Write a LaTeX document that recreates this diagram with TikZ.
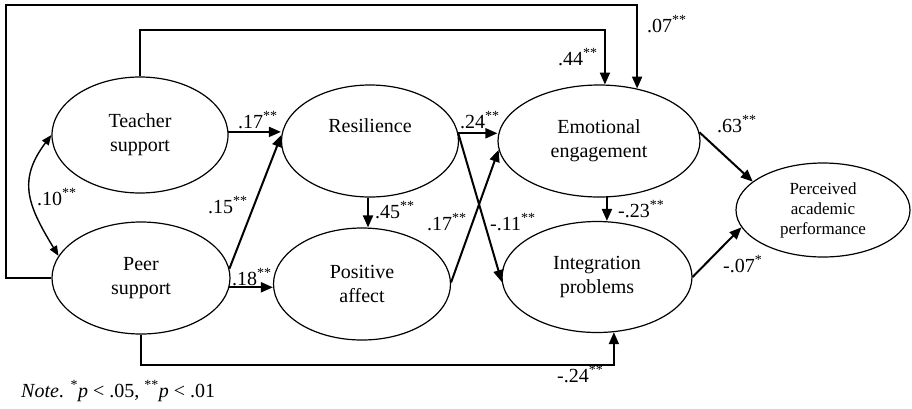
\documentclass[tikz,border=0pt]{standalone}
\usepackage{fontspec}
\setmainfont{Liberation Serif}
\usetikzlibrary{shapes.geometric,arrows.meta,calc}
\begin{document}
\begin{tikzpicture}[x=1pt,y=-1pt,
  latent/.style={ellipse,draw,line width=1.2pt,inner sep=0pt,align=center,font=\fontsize{20}{24}\selectfont},
  arr/.style={line width=2pt,-{Triangle[length=12pt,width=10pt]}},
  dblarr/.style={line width=1.4pt,{Triangle[length=10pt,width=8pt]}-{Triangle[length=10pt,width=8pt]}},
  lbl/.style={anchor=base west,inner sep=0pt,font=\fontsize{20}{24}\selectfont}]
\useasboundingbox (0,0) rectangle (912,408);

% variables
\node[latent,minimum width=176pt,minimum height=116pt] (teacher) at (140,135) {Teacher\\support};
\node[latent,minimum width=178pt,minimum height=112pt] (peer) at (141,278) {Peer\\support};
\node[latent,minimum width=177pt,minimum height=112pt] (res) at (370,141) {Resilience\\[6pt]};
\node[latent,minimum width=177pt,minimum height=112pt] (pos) at (362,284) {Positive\\affect};
\node[latent,minimum width=202pt,minimum height=112pt] (emo) at (599,141) {Emotional\\engagement};
\node[latent,minimum width=190pt,minimum height=111pt] (integ) at (597,277) {Integration\\problems};
\node[latent,minimum width=174pt,minimum height=94pt,font=\fontsize{17}{20}\selectfont] (perf) at (823,210) {Perceived\\academic\\performance};

% paths
\draw[arr] (teacher.2) -- (teacher.2 -| res.west);
\draw[arr] (peer.6) -- (res.176);
\draw[arr] (peer.-6) -- (peer.-6 -| pos.west);
\draw[arr] (res.-92) -- (res.-92 |- pos.north);
\draw[arr] (res.5) -- (res.5 -| emo.west);
\draw[arr] (res.5) -- (integ.183);
\draw[arr] (pos.1) -- (emo.185);
\draw[arr] (emo.-82) -- (emo.-82 |- integ.north);
\draw[arr] (emo.5) -- (perf.158);
\draw[arr] (integ.east) -- (perf.192);
\draw[arr] (teacher.north) -- ++(0,-46) -| (emo.84);
\draw[arr] (peer.west) -- ++(-45,0) -- ++(0,-273) -| (emo.54);
\draw[arr] (peer.south) -- ++(0,30) -| (integ.-73);
\draw[dblarr] (teacher.west) .. controls +(-34,45) and +(-31,-51) .. (peer.165);

% coefficients
\node[lbl] (c1) at (238,128) {.17\textsuperscript{**}};
\node[lbl] (c2) at (208,213) {.15\textsuperscript{**}};
\node[lbl] (c3) at (232,285) {.18\textsuperscript{**}};
\node[lbl] (c4) at (375,218) {.45\textsuperscript{**}};
\node[lbl] (c5) at (460,128) {.24\textsuperscript{**}};
\node[lbl] (c6) at (427,230) {.17\textsuperscript{**}};
\node[lbl] (c7) at (490,230) {-.11\textsuperscript{**}};
\node[lbl] (c8) at (618,217) {-.23\textsuperscript{**}};
\node[lbl] (c9) at (717,132) {.63\textsuperscript{**}};
\node[lbl] (c10) at (723,272) {-.07\textsuperscript{*}};
\node[lbl] (c11) at (558,65) {.44\textsuperscript{**}};
\node[lbl] (c12) at (647,32) {.07\textsuperscript{**}};
\node[lbl] (c13) at (557,382) {-.24\textsuperscript{**}};
\node[lbl] (c14) at (37,205) {.10\textsuperscript{**}};

\node[lbl] (note) at (21,397) {\textit{Note}. \textsuperscript{*}\textit{p} < .05, \textsuperscript{**}\textit{p} < .01};
\end{tikzpicture}
\end{document}
